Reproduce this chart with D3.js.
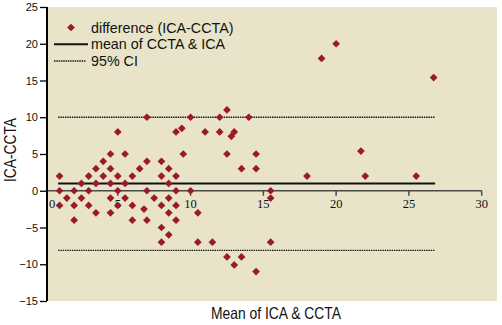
<!DOCTYPE html>
<html>
<head>
<meta charset="utf-8">
<script src="https://cdn.jsdelivr.net/npm/d3@7"></script>
<style>
  html, body { margin: 0; padding: 0; background: #fff; }
  svg { display: block; }
  .narrow { font-family: "Liberation Sans", Arial, sans-serif; }
</style>
</head>
<body>
<svg id="chart" width="502" height="325"></svg>
<script>
// Bland–Altman data: mean of the two methods (x) and their difference (y)
const meanValues = [
  1, 1, 1, 1.5, 2, 2, 2, 2.5, 2.5, 3, 3, 3, 3.5, 3.5, 3.5, 4, 4,
  4.5, 4.5, 4.5, 4.5, 4.5, 5, 5, 5, 5, 5.5, 5.5, 5.5, 6, 6, 6, 6.5, 6.8,
  7, 7, 7, 7, 7.5, 8, 8, 8, 8, 8, 8.5, 8.5, 8.5, 8.5, 8.5,
  9, 9, 9, 9, 9, 9.4, 9.5, 10, 10, 10.5, 10.5, 11, 11.5, 12, 12,
  12.5, 12.5, 12.5, 12.8, 13, 13, 13.5, 13.5, 14, 14.5, 14.5, 14.5,
  15.5, 15.5, 15.5, 18, 19, 20, 21.7, 22, 25.5, 26.7
];
const diffValues = [
  2, 0, -2, -1, 0, -2, -4, 1, -1, 2, 0, -2, 3, 1, -3, 4, 2,
  5, 3, 1, -1, -3, 8, 2, 0, -2, 5, 1, -1, 2, -2, -4, 3, -2.5,
  10, 4, 0, -4, -1, 4, 2, -2, -5, -7, 3, 1, -1, -3, -6,
  8, 2, 0, -2, -4, 8.5, 5, 10, 0, -3, -7, 8, -7, 10, 8,
  11, 5, -9, 7.4, 8, -10.1, 3, -9, 10, 5, 3, -11,
  0, -1, -7, 2, 18, 20, 5.4, 2, 2, 15.4
];

// Reference lines: mean difference and 95% limits of agreement
const meanDiff = 1;
const ciUpper = 10;
const ciLower = -8.1;
const lineExtent = [0.9, 26.8];

const xTicks = [0, 5, 10, 15, 20, 25, 30];
const yTicks = [-15, -10, -5, 0, 5, 10, 15, 20, 25];
const legendLabels = ["difference (ICA-CCTA)", "mean of CCTA & ICA", "95% CI"];

const svg = d3.select("#chart");
const plot = { left: 47, right: 497, top: 7, bottom: 301 };

const x = d3.scaleLinear().domain([0, 30]).range([45, 481.7]);
const y = d3.scaleLinear().domain([-15, 25]).range([plot.bottom, plot.top]);

const red = "#9b1a27";

// plot background
svg.append("rect")
  .attr("x", plot.left).attr("y", plot.top)
  .attr("width", plot.right - plot.left).attr("height", plot.bottom - plot.top)
  .attr("fill", "#e9e4c9");

// x axis drawn through zero
const xAxis = svg.append("g").attr("transform", `translate(0,${y(0)})`);
xAxis.append("line")
  .attr("x1", plot.left).attr("x2", x(30))
  .attr("stroke", "#4a4a4a").attr("stroke-width", 1.5);
xAxis.selectAll("line.tick").data(xTicks.filter(d => d > 0)).join("line")
  .attr("class", "tick")
  .attr("x1", d => x(d)).attr("x2", d => x(d))
  .attr("y1", 0).attr("y2", 5)
  .attr("stroke", "#4a4a4a").attr("stroke-width", 1.5);
xAxis.selectAll("text").data(xTicks).join("text")
  .attr("x", d => d === 0 ? x(d) + 7 : x(d))
  .attr("y", 17.5)
  .attr("text-anchor", "middle")
  .attr("font-family", "'Liberation Serif', serif")
  .attr("font-size", 12.5)
  .attr("fill", "#111")
  .text(d => d);

// y axis
const yAxis = svg.append("g")
  .attr("transform", `translate(${plot.left},0)`)
  .call(d3.axisLeft(y).tickValues(yTicks).tickSize(7).tickPadding(2).tickFormat(d3.format("d")));
yAxis.select(".domain").attr("stroke", "#000").attr("stroke-width", 2)
  .attr("d", `M0,${plot.top}V${plot.bottom}`);
yAxis.selectAll(".tick line").attr("stroke", "#000").attr("stroke-width", 1.3);
yAxis.selectAll(".tick text")
  .attr("font-family", "'Liberation Sans', Arial, sans-serif")
  .attr("font-size", 11)
  .attr("fill", "#111");

// confidence limits (dotted)
svg.selectAll("line.ci").data([ciUpper, ciLower]).join("line")
  .attr("class", "ci")
  .attr("x1", x(lineExtent[0])).attr("x2", x(lineExtent[1]))
  .attr("y1", d => y(d)).attr("y2", d => y(d))
  .attr("stroke", "#1a1a1a").attr("stroke-width", 1.3)
  .attr("stroke-dasharray", "1.5,0.8");

// mean difference line
svg.append("line")
  .attr("x1", x(lineExtent[0])).attr("x2", x(lineExtent[1]))
  .attr("y1", y(meanDiff)).attr("y2", y(meanDiff))
  .attr("stroke", "#111").attr("stroke-width", 2);

// data points as diamonds
const diamond = d3.symbol().type(d3.symbolSquare).size(30);
const points = meanValues.map((m, i) => ({ m, d: diffValues[i] }));
svg.append("g").selectAll("path").data(points).join("path")
  .attr("d", diamond)
  .attr("transform", p => `translate(${x(p.m)},${y(p.d)}) rotate(45)`)
  .attr("fill", red);

// legend
const legend = svg.append("g").attr("font-family", "'Liberation Sans', Arial, sans-serif")
  .attr("font-size", 14.3).attr("fill", "#111");
const rowY = [27.5, 44.3, 61];
legend.append("path")
  .attr("d", diamond)
  .attr("transform", `translate(71,${rowY[0]}) rotate(45)`)
  .attr("fill", red);
legend.append("line")
  .attr("x1", 54).attr("x2", 88).attr("y1", rowY[1]).attr("y2", rowY[1])
  .attr("stroke", "#111").attr("stroke-width", 2);
legend.append("line")
  .attr("x1", 54).attr("x2", 86).attr("y1", rowY[2]).attr("y2", rowY[2])
  .attr("stroke", "#1a1a1a").attr("stroke-width", 1.3).attr("stroke-dasharray", "1.5,0.8");
legend.selectAll("text").data(legendLabels).join("text")
  .attr("x", 91)
  .attr("y", (d, i) => rowY[i] + 5)
  .attr("fill", "#111")
  .text(d => d);

// axis titles, set in a condensed width
svg.append("text")
  .attr("class", "narrow")
  .attr("x", 211).attr("y", 318.5)
  .attr("font-size", 16.5)
  .attr("textLength", 130)
  .attr("lengthAdjust", "spacingAndGlyphs")
  .attr("fill", "#111")
  .text("Mean of ICA & CCTA");
svg.append("text")
  .attr("class", "narrow")
  .attr("transform", "translate(16,182) rotate(-90)")
  .attr("font-size", 16.5)
  .attr("textLength", 64)
  .attr("lengthAdjust", "spacingAndGlyphs")
  .attr("fill", "#111")
  .text("ICA-CCTA");
</script>
</body>
</html>
